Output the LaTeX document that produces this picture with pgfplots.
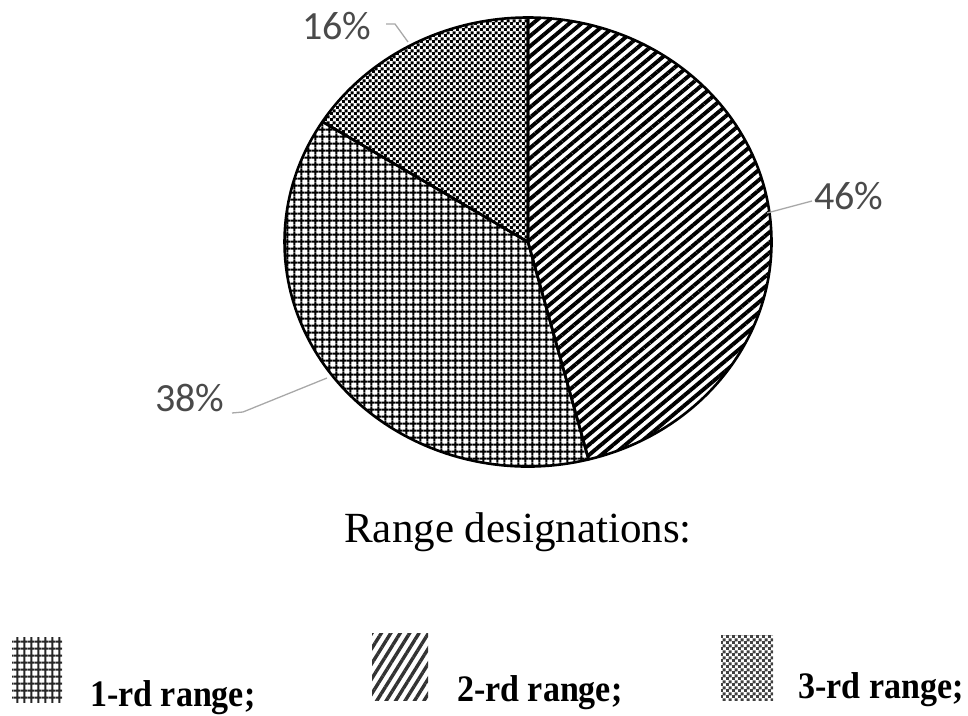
\documentclass[border=0pt]{standalone}
\usepackage{graphicx}
\usepackage{pgfplots}
\pgfplotsset{compat=1.18}
\usepackage{pgfplotstable}
\usepackage{fontspec}
\setmainfont{Liberation Serif}
\newfontfamily\carlito{Carlito}
\usetikzlibrary{patterns,patterns.meta}

\pgfdeclarepatternformonly{mygrid}{\pgfpointorigin}{\pgfpoint{7.3pt}{7.3pt}}{\pgfpoint{7.3pt}{7.3pt}}{%
  \pgfsetlinewidth{2.2pt}%
  \pgfpathmoveto{\pgfpoint{0pt}{3.65pt}}\pgfpathlineto{\pgfpoint{7.3pt}{3.65pt}}%
  \pgfpathmoveto{\pgfpoint{3.65pt}{0pt}}\pgfpathlineto{\pgfpoint{3.65pt}{7.3pt}}%
  \pgfusepath{stroke}}
\pgfdeclarepatternformonly{mychecker}{\pgfpointorigin}{\pgfpoint{6pt}{6pt}}{\pgfpoint{6pt}{6pt}}{%
  \pgfpathrectangle{\pgfpointorigin}{\pgfpoint{3.4pt}{3.4pt}}%
  \pgfpathrectangle{\pgfpoint{3pt}{3pt}}{\pgfpoint{3.4pt}{3.4pt}}%
  \pgfusepath{fill}}

\definecolor{lbl}{HTML}{4A4A4A}
\definecolor{lead}{HTML}{A8A8A8}

\pgfplotstableread{
range value
2 46
1 38
3 16
}\piedata
\pgfplotstablegetelem{0}{value}\of\piedata \pgfmathsetmacro\vA{\pgfplotsretval}%
\pgfplotstablegetelem{1}{value}\of\piedata \pgfmathsetmacro\vB{\pgfplotsretval}%
\pgfplotstablegetelem{2}{value}\of\piedata \pgfmathsetmacro\vC{\pgfplotsretval}%
\pgfmathsetmacro\aA{90}%
\pgfmathsetmacro\aB{\aA-3.6*\vA}%
\pgfmathsetmacro\aC{\aB-3.6*\vB}%
\pgfmathsetmacro\aD{\aC-3.6*\vC}%
\def\rx{243.5pt}\def\ry{224.5pt}%
\pgfmathsetmacro\sAx{243.5*cos(\aA)}\pgfmathsetmacro\sAy{224.5*sin(\aA)}%
\pgfmathsetmacro\sBx{243.5*cos(\aB)}\pgfmathsetmacro\sBy{224.5*sin(\aB)}%
\pgfmathsetmacro\sCx{243.5*cos(\aC)}\pgfmathsetmacro\sCy{224.5*sin(\aC)}%

\begin{document}
\begin{tikzpicture}
\begin{axis}[at={(0,0)},anchor=south west, scale only axis, width=968pt, height=715pt,
  xmin=0,xmax=968,ymin=0,ymax=715, hide axis, clip=false]
% slices
\fill[pattern={Lines[angle=40,distance=7.8pt,line width=3.9pt]}] (axis cs:528,473) -- ++(\sAx pt,\sAy pt) arc[start angle=\aA,end angle=\aB,x radius=\rx,y radius=\ry] -- cycle;
\fill[pattern=mygrid] (axis cs:528,473) -- ++(\sBx pt,\sBy pt) arc[start angle=\aB,end angle=\aC,x radius=\rx,y radius=\ry] -- cycle;
\fill[pattern=mychecker] (axis cs:528,473) -- ++(\sCx pt,\sCy pt) arc[start angle=\aC,end angle=\aD,x radius=\rx,y radius=\ry] -- cycle;
\draw[black,line width=2.6pt,line join=round] (axis cs:528,473) -- ++(\sAx pt,\sAy pt) arc[start angle=\aA,end angle=\aB,x radius=\rx,y radius=\ry] -- cycle;
\draw[black,line width=2.6pt,line join=round] (axis cs:528,473) -- ++(\sBx pt,\sBy pt) arc[start angle=\aB,end angle=\aC,x radius=\rx,y radius=\ry] -- cycle;
\draw[black,line width=2.6pt,line join=round] (axis cs:528,473) -- ++(\sCx pt,\sCy pt) arc[start angle=\aC,end angle=\aD,x radius=\rx,y radius=\ry] -- cycle;
% leader lines
\draw[lead,line width=1.3pt] (axis cs:386,691) -- (axis cs:395,691) -- (axis cs:408,673);
\draw[lead,line width=1.3pt] (axis cs:812,514) -- (axis cs:767,502);
\draw[lead,line width=1.3pt] (axis cs:232,302) -- (axis cs:243,303) -- (axis cs:327,337);
% percent labels
\node[anchor=base west,inner sep=0,text=lbl,font=\carlito\fontsize{40}{40}\selectfont] at (axis cs:302,675) {16\%};
\node[anchor=base west,inner sep=0,text=lbl,font=\carlito\fontsize{40}{40}\selectfont] at (axis cs:814,505) {46\%};
\node[anchor=base west,inner sep=0,text=lbl,font=\carlito\fontsize{40}{40}\selectfont] at (axis cs:155,303) {38\%};
% title of legend
\node[anchor=base,inner sep=0,font=\fontsize{43}{43}\selectfont] at (axis cs:518,173) {Range designations:};
% legend swatches
\fill[pattern=mygrid,pattern color=black!85] (axis cs:12,13) rectangle (axis cs:62,78);
\fill[pattern={Lines[angle=58,distance=8pt,line width=3.4pt]},pattern color=black!80] (axis cs:372,15) rectangle (axis cs:428,82);
\fill[pattern=mychecker,pattern color=black!75] (axis cs:721,15) rectangle (axis cs:773,80);
% legend texts
\node[anchor=base west,inner sep=0,font=\bfseries\fontsize{34}{34}\selectfont] at (axis cs:90,9) {\scalebox{1}[1.1]{1-rd range;}};
\node[anchor=base west,inner sep=0,font=\bfseries\fontsize{34}{34}\selectfont] at (axis cs:457,14) {\scalebox{1}[1.1]{2-rd range;}};
\node[anchor=base west,inner sep=0,font=\bfseries\fontsize{34}{34}\selectfont] at (axis cs:798,17) {\scalebox{1}[1.1]{3-rd range;}};
\end{axis}
\pgfresetboundingbox
\useasboundingbox (0,0) rectangle (968pt,715pt);
\end{tikzpicture}%
\end{document}
